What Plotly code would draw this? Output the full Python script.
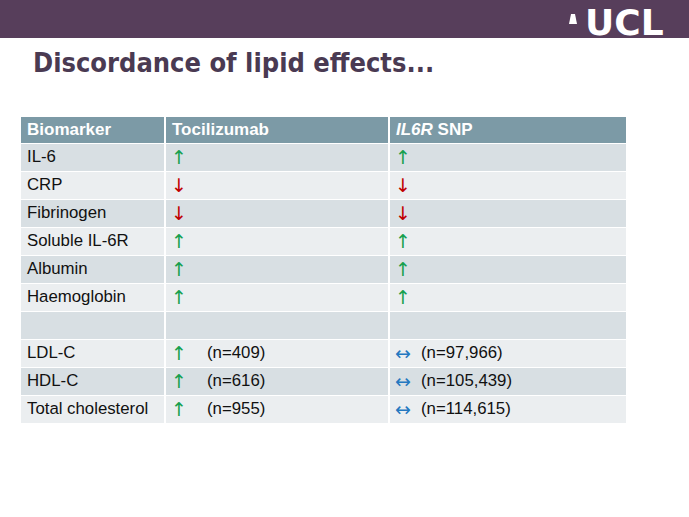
import plotly.graph_objects as go

W, H = 689, 517

# table content
header = ["Biomarker", "Tocilizumab", "<i>IL6R</i> SNP"]
biomarkers = ["IL-6", "CRP", "Fibrinogen", "Soluble IL-6R", "Albumin",
              "Haemoglobin", "", "LDL-C", "HDL-C", "Total cholesterol"]
toci_effect = ["up", "down", "down", "up", "up", "up", "", "up", "up", "up"]
toci_n = ["", "", "", "", "", "", "", "409", "616", "955"]
snp_effect = ["up", "down", "down", "up", "up", "up", "", "none", "none", "none"]
snp_n = ["", "", "", "", "", "", "", "97,966", "105,439", "114,615"]

arrow_glyph = {"up": "↑", "down": "↓", "none": "↔", "": ""}
arrow_color = {"up": "#17a04e", "down": "#c00000", "none": "#2478c0", "": "#ffffff"}

# table geometry (pixels, table-local)
col_edges = [0, 145, 369, 607]
header_h, row_h = 27, 28
n_rows = len(biomarkers)
row_edges = [0, header_h] + [header_h + row_h * (i + 1) for i in range(n_rows)]
row_mid = [(row_edges[i] + row_edges[i + 1]) / 2 for i in range(n_rows + 1)]
pad = 8
font = "Liberation Sans, Arial, sans-serif"

# 0 = header, 1 = dark band, 2 = light band
z = [[0, 0, 0]] + [[1 + i % 2] * 3 for i in range(n_rows)]

fig = go.Figure()
fig.add_trace(go.Heatmap(
    x=col_edges, y=row_edges, z=z,
    zmin=0, zmax=2,
    colorscale=[[0, "#7c9aa6"], [0.25, "#7c9aa6"], [0.25, "#d8dfe3"],
                [0.75, "#d8dfe3"], [0.75, "#ebeef0"], [1, "#ebeef0"]],
    showscale=False, xgap=2, ygap=1, hoverinfo="skip",
))

# header text
fig.add_trace(go.Scatter(
    x=[c + pad - 1 for c in col_edges[:3]], y=[row_mid[0]] * 3,
    text=["<b>" + h + "</b>" for h in header],
    mode="text", textposition="middle right", hoverinfo="skip",
    textfont=dict(family=font, size=17, color="white"),
))

# biomarker names
fig.add_trace(go.Scatter(
    x=[col_edges[0] + pad - 1] * n_rows, y=row_mid[1:], text=biomarkers,
    mode="text", textposition="middle right", hoverinfo="skip",
    textfont=dict(family=font, size=16.8, color="#111111"),
))

# arrows + sample sizes for both columns
for ci, effects, ns, n_off in [(1, toci_effect, toci_n, 34), (2, snp_effect, snp_n, 24)]:
    fig.add_trace(go.Scatter(
        x=[col_edges[ci] + pad - 2] * n_rows, y=[m + 1 for m in row_mid[1:]],
        text=[arrow_glyph[e] for e in effects],
        mode="text", textposition="middle right", hoverinfo="skip",
        textfont=dict(family="DejaVu Sans, sans-serif", size=19,
                      color=[arrow_color[e] for e in effects]),
    ))
    fig.add_trace(go.Scatter(
        x=[col_edges[ci] + pad + n_off] * n_rows, y=row_mid[1:],
        text=["(n=" + n + ")" if n else "" for n in ns],
        mode="text", textposition="middle right", hoverinfo="skip",
        textfont=dict(family=font, size=16.8, color="#111111"),
    ))

# banner + logo
fig.add_shape(type="rect", xref="paper", yref="paper", x0=0, x1=1,
              y0=1 - 38 / H, y1=1, fillcolor="#573e5b", line_width=0, layer="below")
fig.add_shape(type="path", xref="paper", yref="paper",
              path="M %f %f L %f %f L %f %f L %f %f Z" % (
                  569 / W, 1 - 24 / H, 577 / W, 1 - 24 / H,
                  575 / W, 1 - 14 / H, 571 / W, 1 - 14 / H),
              fillcolor="white", line_width=0)
fig.add_annotation(text="<b>UCL</b>", xref="paper", yref="paper",
                   x=666 / W, y=1 - 38 / H, xanchor="right", yanchor="bottom",
                   yshift=-7, showarrow=False,
                   font=dict(family="DejaVu Sans, sans-serif", size=36, color="white"))

fig.add_annotation(text="<b>Discordance of lipid effects...</b>", xref="paper", yref="paper",
                   x=31 / W, y=1 - 62 / H, xanchor="left", yanchor="middle", showarrow=False,
                   font=dict(family="Liberation Sans Narrow, Arial Narrow, DejaVu Sans Condensed, sans-serif",
                             size=27, color="#4a3a52"))

fig.update_layout(
    width=W,
    height=H,
    margin=dict(l=0, r=0, t=0, b=0),
    paper_bgcolor="white",
    plot_bgcolor="white",
    showlegend=False,
    xaxis=dict(range=[0, 607], domain=[20 / W, 627 / W], visible=False, fixedrange=True),
    yaxis=dict(range=[row_edges[-1], 0], domain=[1 - 424 / H, 1 - 117 / H],
               visible=False, fixedrange=True),
)

fig.write_html("out.html", config={"displayModeBar": False},
               post_script="document.body.style.margin='0';")
